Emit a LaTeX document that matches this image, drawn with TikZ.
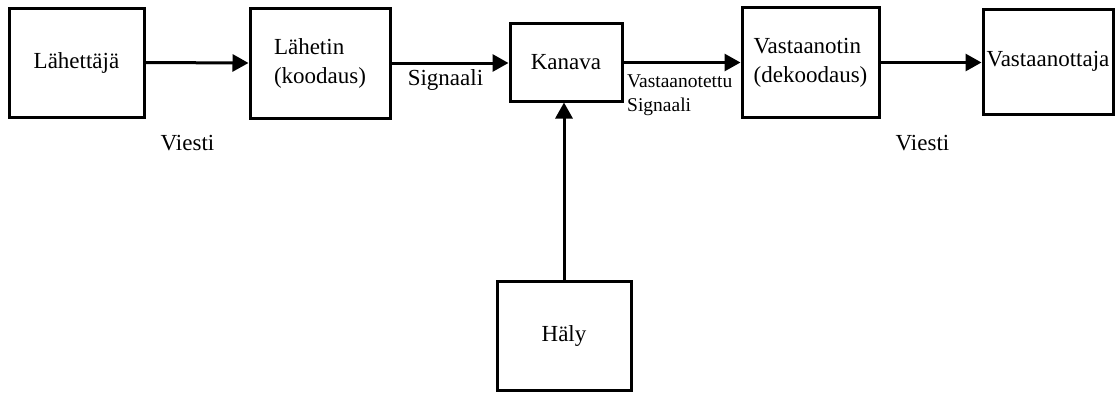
\documentclass[tikz,border=0pt]{standalone}
\usepackage{fontspec}
\setmainfont{Liberation Serif}
\usetikzlibrary{arrows.meta}
\begin{document}
\begin{tikzpicture}[x=1pt,y=-1pt,
  box/.style={draw=black,line width=3pt,inner sep=0pt,align=center,
    font=\rmfamily\fontsize{23}{29}\selectfont},
  lbl/.style={inner sep=0pt,font=\rmfamily\fontsize{23}{29}\selectfont},
  small/.style={inner sep=0pt,align=left,font=\rmfamily\fontsize{19.5}{24}\selectfont},
  conn/.style={line width=3pt,-{Triangle[length=16pt,width=17pt]}}]
\useasboundingbox (0,0) rectangle (1116,392);
\node[box,minimum width=135pt,minimum height=109pt] (A) at (76.5,62.5) {Lähettäjä};
\node[box,align=left,minimum width=140pt,minimum height=110pt] (B) at (320,63) {Lähetin\\(koodaus)};
\node[box,minimum width=112pt,minimum height=78pt] (K) at (566,62) {Kanava};
\node[box,align=left,minimum width=137pt,minimum height=110pt] (V) at (810.5,62.5) {Vastaanotin\\(dekoodaus)};
\node[box,minimum width=130pt,minimum height=105pt] (R) at (1048,61.5) {Vastaanottaja};
\node[box,minimum width=134pt,minimum height=109pt] (H) at (564,335.5) {Häly};
\node[lbl] (v1) at (187.5,143) {Viesti};
\node[lbl] (v2) at (922.5,143) {Viesti};
\node[lbl] (s1) at (445.5,80) {Signaali};
\node[small,anchor=west] (s2) at (627,95) {Vastaanotettu\\Signaali};
\draw[conn] (A.east) -- (B.west);
\draw[conn] (B.east) -- (K.west|-B.east);
\draw[conn] (K.east|-V.west) -- (V.west);
\draw[conn] (V.east) -- (R.west|-V.east);
\draw[conn] (H.north) -- (H.north|-K.south);
\end{tikzpicture}
\end{document}
